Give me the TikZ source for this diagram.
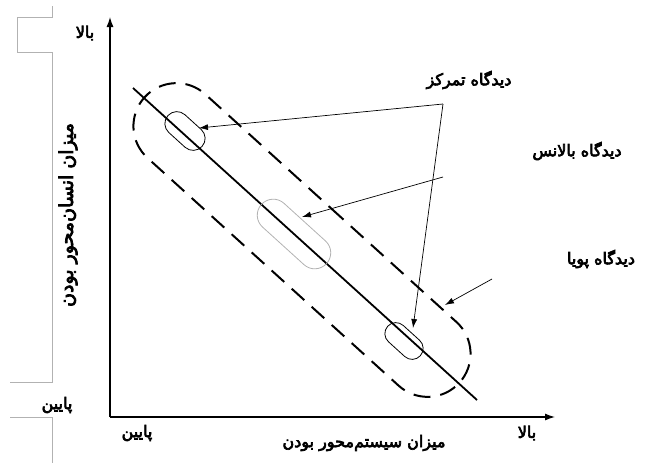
\documentclass[tikz,border=0pt]{standalone}
\usepackage{fontspec}
\usepackage{tikz}
\usetikzlibrary{shapes,calc,arrows.meta}
\newfontfamily\farsi[Script=Arabic,FakeBold=4]{DejaVu Sans}
\TeXXeTstate=1

\begin{document}
\begin{tikzpicture}[x=1pt,y=1pt,
		lbl/.style={font=\farsi\fontsize{16}{18}\selectfont, inner sep=0pt},
		capsule/.style={rounded rectangle, draw, rotate=-42.2, inner sep=0pt},
		pointer/.style={-{Latex[length=9pt,width=6pt]}, line width=0.7pt}]
		\useasboundingbox (0,0) rectangle (654,-463);
		% Coordinates
		\coordinate (O) at (110,-417);
		\coordinate (Ytop) at (110,-17);
		\coordinate (Xend) at (555,-417);
		\coordinate (lineA) at (133,-88);
		\coordinate (lineB) at (477,-400);
		\coordinate (J) at (443,-104);
		\coordinate (K) at (443,-177);
		\coordinate (M) at (492,-279);
		% Page frame leftovers
		\draw[gray!60, line width=0.6pt] (52,-6)--(52,-17)--(17,-17)--(17,-52)--(52,-52)--(52,-382)--(10,-382);
		\draw[gray!60, line width=0.6pt] (10,-417)--(52,-417)--(52,-463);
		% Dynamic view band
		\node[capsule, dash pattern=on 17pt off 10pt, line width=2pt,
			minimum width=425, minimum height=86] (dyn) at (302,-240) {};
		% Diagonal
		\draw[line width=1.8pt] (lineA)--(lineB);
		% Focus and balance views
		\node[capsule, line width=0.8pt, minimum width=46, minimum height=24] (focA) at (185,-131) {};
		\node[capsule, line width=0.8pt, draw=gray!60, minimum width=88, minimum height=32] (bal) at (294,-234) {};
		\node[capsule, line width=0.8pt, minimum width=44, minimum height=22] (focB) at (404,-341) {};
		\coordinate (tipA) at (199,-128);
		\coordinate (tipB) at (413,-328);
		\coordinate (tipC) at (302,-217);
		\coordinate (tipD) at (445,-305);
		% Axes
		\draw[-{Latex[length=10pt,width=7pt]}, line width=1.2pt] (O)--(Ytop);
		\draw[-{Latex[length=10pt,width=7pt]}, line width=1.2pt] (O)--(Xend);
		% Pointers
		\draw[pointer] (J)--(tipA);
		\draw[pointer] (J)--(tipB);
		\draw[pointer] (K)--(tipC);
		\draw[pointer] (M)--(tipD);
		% Labels
		\node[lbl] (focT) at (469,-80) {\beginR دیدگاه تمرکز\endR};
		\node[lbl] (balT) at (577,-151) {\beginR دیدگاه بالانس\endR};
		\node[lbl] (dynT) at (601,-259) {\beginR دیدگاه پویا\endR};
		\node[lbl] (yHi) at (85,-33) {\beginR بالا\endR};
		\node[lbl] (yLo) at (57,-405) {\beginR پایین\endR};
		\node[lbl, rotate=90, font=\farsi\fontsize{19}{21}\selectfont] (yAx) at (68,-215) {\beginR میزان انسان‌محور بودن\endR};
		\node[lbl] (xLo) at (137,-433) {\beginR پایین\endR};
		\node[lbl] (xHi) at (527,-433) {\beginR بالا\endR};
		\node[lbl] (xAx) at (364,-443) {\beginR میزان سیستم‌محور بودن\endR};
	\end{tikzpicture}
\end{document}
